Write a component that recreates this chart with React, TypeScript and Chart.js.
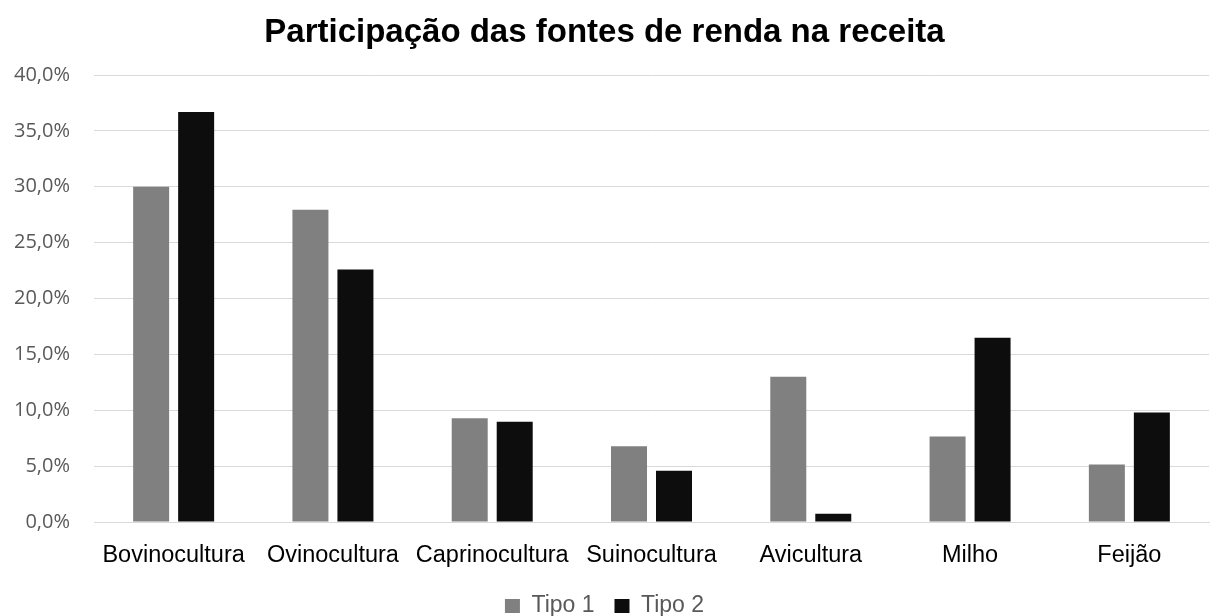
import React, { useEffect, useRef } from "react";
import { Chart, registerables } from "chart.js";

Chart.register(...registerables);

const categories = ["Bovinocultura", "Ovinocultura", "Caprinocultura", "Suinocultura", "Avicultura", "Milho", "Feijão"];
const tipo1 = [30.0, 27.95, 9.28, 6.78, 13.0, 7.65, 5.14];
const tipo2 = [36.7, 22.6, 8.96, 4.58, 0.73, 16.48, 9.8];
const seriesNames = ["Tipo 1", "Tipo 2"];
const seriesColors = ["#808080", "#0d0d0d"];
const titleText = "Participação das fontes de renda na receita";

export default function App() {
  const ref = useRef<HTMLCanvasElement | null>(null);
  useEffect(() => {
    if (!ref.current) return;
    const chart = new Chart(ref.current, {
      type: "bar",
      data: {
        labels: categories,
        datasets: [
          { label: seriesNames[0], data: tipo1, backgroundColor: seriesColors[0], barPercentage: 0.8, categoryPercentage: 0.565 },
          { label: seriesNames[1], data: tipo2, backgroundColor: seriesColors[1], barPercentage: 0.8, categoryPercentage: 0.565 },
        ],
      },
      options: {
        animation: false,
        responsive: false,
        maintainAspectRatio: false,
        layout: { padding: { left: 0, right: 2, top: 0, bottom: -11.5 } },
        plugins: {
          title: {
            display: true,
            text: titleText,
            color: "#000000",
            font: { family: "'Liberation Sans', Arial, sans-serif", size: 33, weight: "bold" },
            padding: { top: 13, bottom: 22.4 },
          },
          legend: {
            position: "bottom",
            labels: {
              color: "#595959",
              font: { family: "'Liberation Sans', Arial, sans-serif", size: 23 },
              boxWidth: 15,
              boxHeight: 14,
              padding: 20,
            },
          },
          tooltip: { enabled: false },
        },
        scales: {
          x: {
            grid: { display: false },
            border: { display: true, color: "#d9d9d9" },
            ticks: {
              color: "#000000",
              font: { family: "'Liberation Sans', Arial, sans-serif", size: 23.5 },
              padding: 11,
              maxRotation: 0,
              autoSkip: false,
            },
            afterFit: (s: any) => {
              s.height = 52.5;
            },
          },
          y: {
            min: 0,
            max: 40,
            border: { display: false },
            grid: { color: "#d9d9d9", drawTicks: false },
            ticks: {
              stepSize: 5,
              color: "#595959",
              font: { family: "'Open Sans', sans-serif", size: 20 },
              padding: 24,
              callback: (v: any) => Number(v).toFixed(1).replace(".", ",") + "%",
            },
            afterFit: (s: any) => {
              s.width = 94;
            },
          },
        },
      },
    });
    return () => chart.destroy();
  }, []);
  return (
    <div style={{ position: "fixed", left: 0, top: 0, width: 1211, height: 616, background: "#fff" }}>
      <canvas ref={ref} width={1211} height={616} style={{ width: 1211, height: 616 }} />
    </div>
  );
}
